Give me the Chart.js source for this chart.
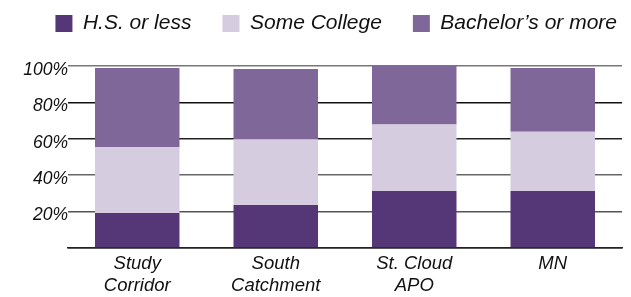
<!DOCTYPE html>
<html>
<head>
<meta charset="utf-8">
<script src="https://cdn.jsdelivr.net/npm/chart.js@4"></script>
<style>
  html, body { margin: 0; padding: 0; background: #fff; }
  #wrap { width: 631px; height: 297px; }
</style>
</head>
<body>
<div id="wrap"><canvas id="chart"></canvas></div>
<script>
const categories = [['Study', 'Corridor'], ['South', 'Catchment'], ['St. Cloud', 'APO'], ['MN']];
const hsOrLess = [19.2, 23.6, 31.3, 31.3];
const someCollege = [36.3, 36.1, 36.5, 32.6];
const bachelorsOrMore = [43.4, 38.7, 32.2, 35.0];
const yTicks = [20, 40, 60, 80, 100];
const gridColors = ['#222', '#555', '#666', '#222', '#111', '#777'];

const family = 'Liberation Sans, Arial, sans-serif';

// fixed legend height so the plot starts where the reference does,
// one row only, and the row nudged right
const legendFix = {
    id: 'legendFix',
    beforeInit(chart) {
        const fit = chart.legend.fit;
        chart.legend.fit = function () {
            this.maxWidth += 60;
            fit.call(this);
            this.height = 84;
        };
    },
    afterLayout(chart) {
        chart.legend.left += 26;
        chart.legend.right += 26;
    }
};

new Chart(document.getElementById('chart').getContext('2d'), {
    type: 'bar',
    data: {
        labels: categories,
        datasets: [
            { label: 'H.S. or less', data: hsOrLess, backgroundColor: '#553778' },
            { label: 'Some College', data: someCollege, backgroundColor: '#d5cce0' },
            { label: 'Bachelor\u2019s or more', data: bachelorsOrMore, backgroundColor: '#7f6899' }
        ]
    },
    options: {
        responsive: true,
        maintainAspectRatio: false,
        animation: false,
        datasets: { bar: { categoryPercentage: 1, barPercentage: 0.61 } },
        layout: { padding: { left: 0, right: 9, top: -18, bottom: 0 } },
        plugins: {
            tooltip: { enabled: false },
            legend: {
                position: 'top',
                align: 'end',
                labels: {
                    boxWidth: 17,
                    boxHeight: 17,
                    padding: 31,
                    color: '#111',
                    font: { family: family, style: 'italic', size: 21 }
                }
            }
        },
        scales: {
            x: {
                stacked: true,
                afterFit: axis => { axis.height = 49; },
                grid: { display: false, tickLength: 0 },
                border: { color: '#222', width: 1.5 },
                ticks: { color: '#111', font: { family: family, style: 'italic', size: 18.5, lineHeight: 1.19 }, padding: 5 }
            },
            y: {
                stacked: true,
                min: 0,
                max: 100,
                afterFit: axis => { axis.width = 68; },
                afterBuildTicks: axis => { axis.ticks = [0, ...yTicks].map(v => ({ value: v })); },
                grid: { color: ctx => gridColors[ctx.index] || '#333', lineWidth: 1.5, tickLength: 0 },
                border: { display: false },
                ticks: {
                    color: '#111',
                    font: { family: family, style: 'italic', size: 17.5 },
                    padding: 0,
                    labelOffset: 4,
                    callback: v => v === 0 ? '' : v + '%'
                }
            }
        }
    },
    plugins: [legendFix]
});
</script>
</body>
</html>
